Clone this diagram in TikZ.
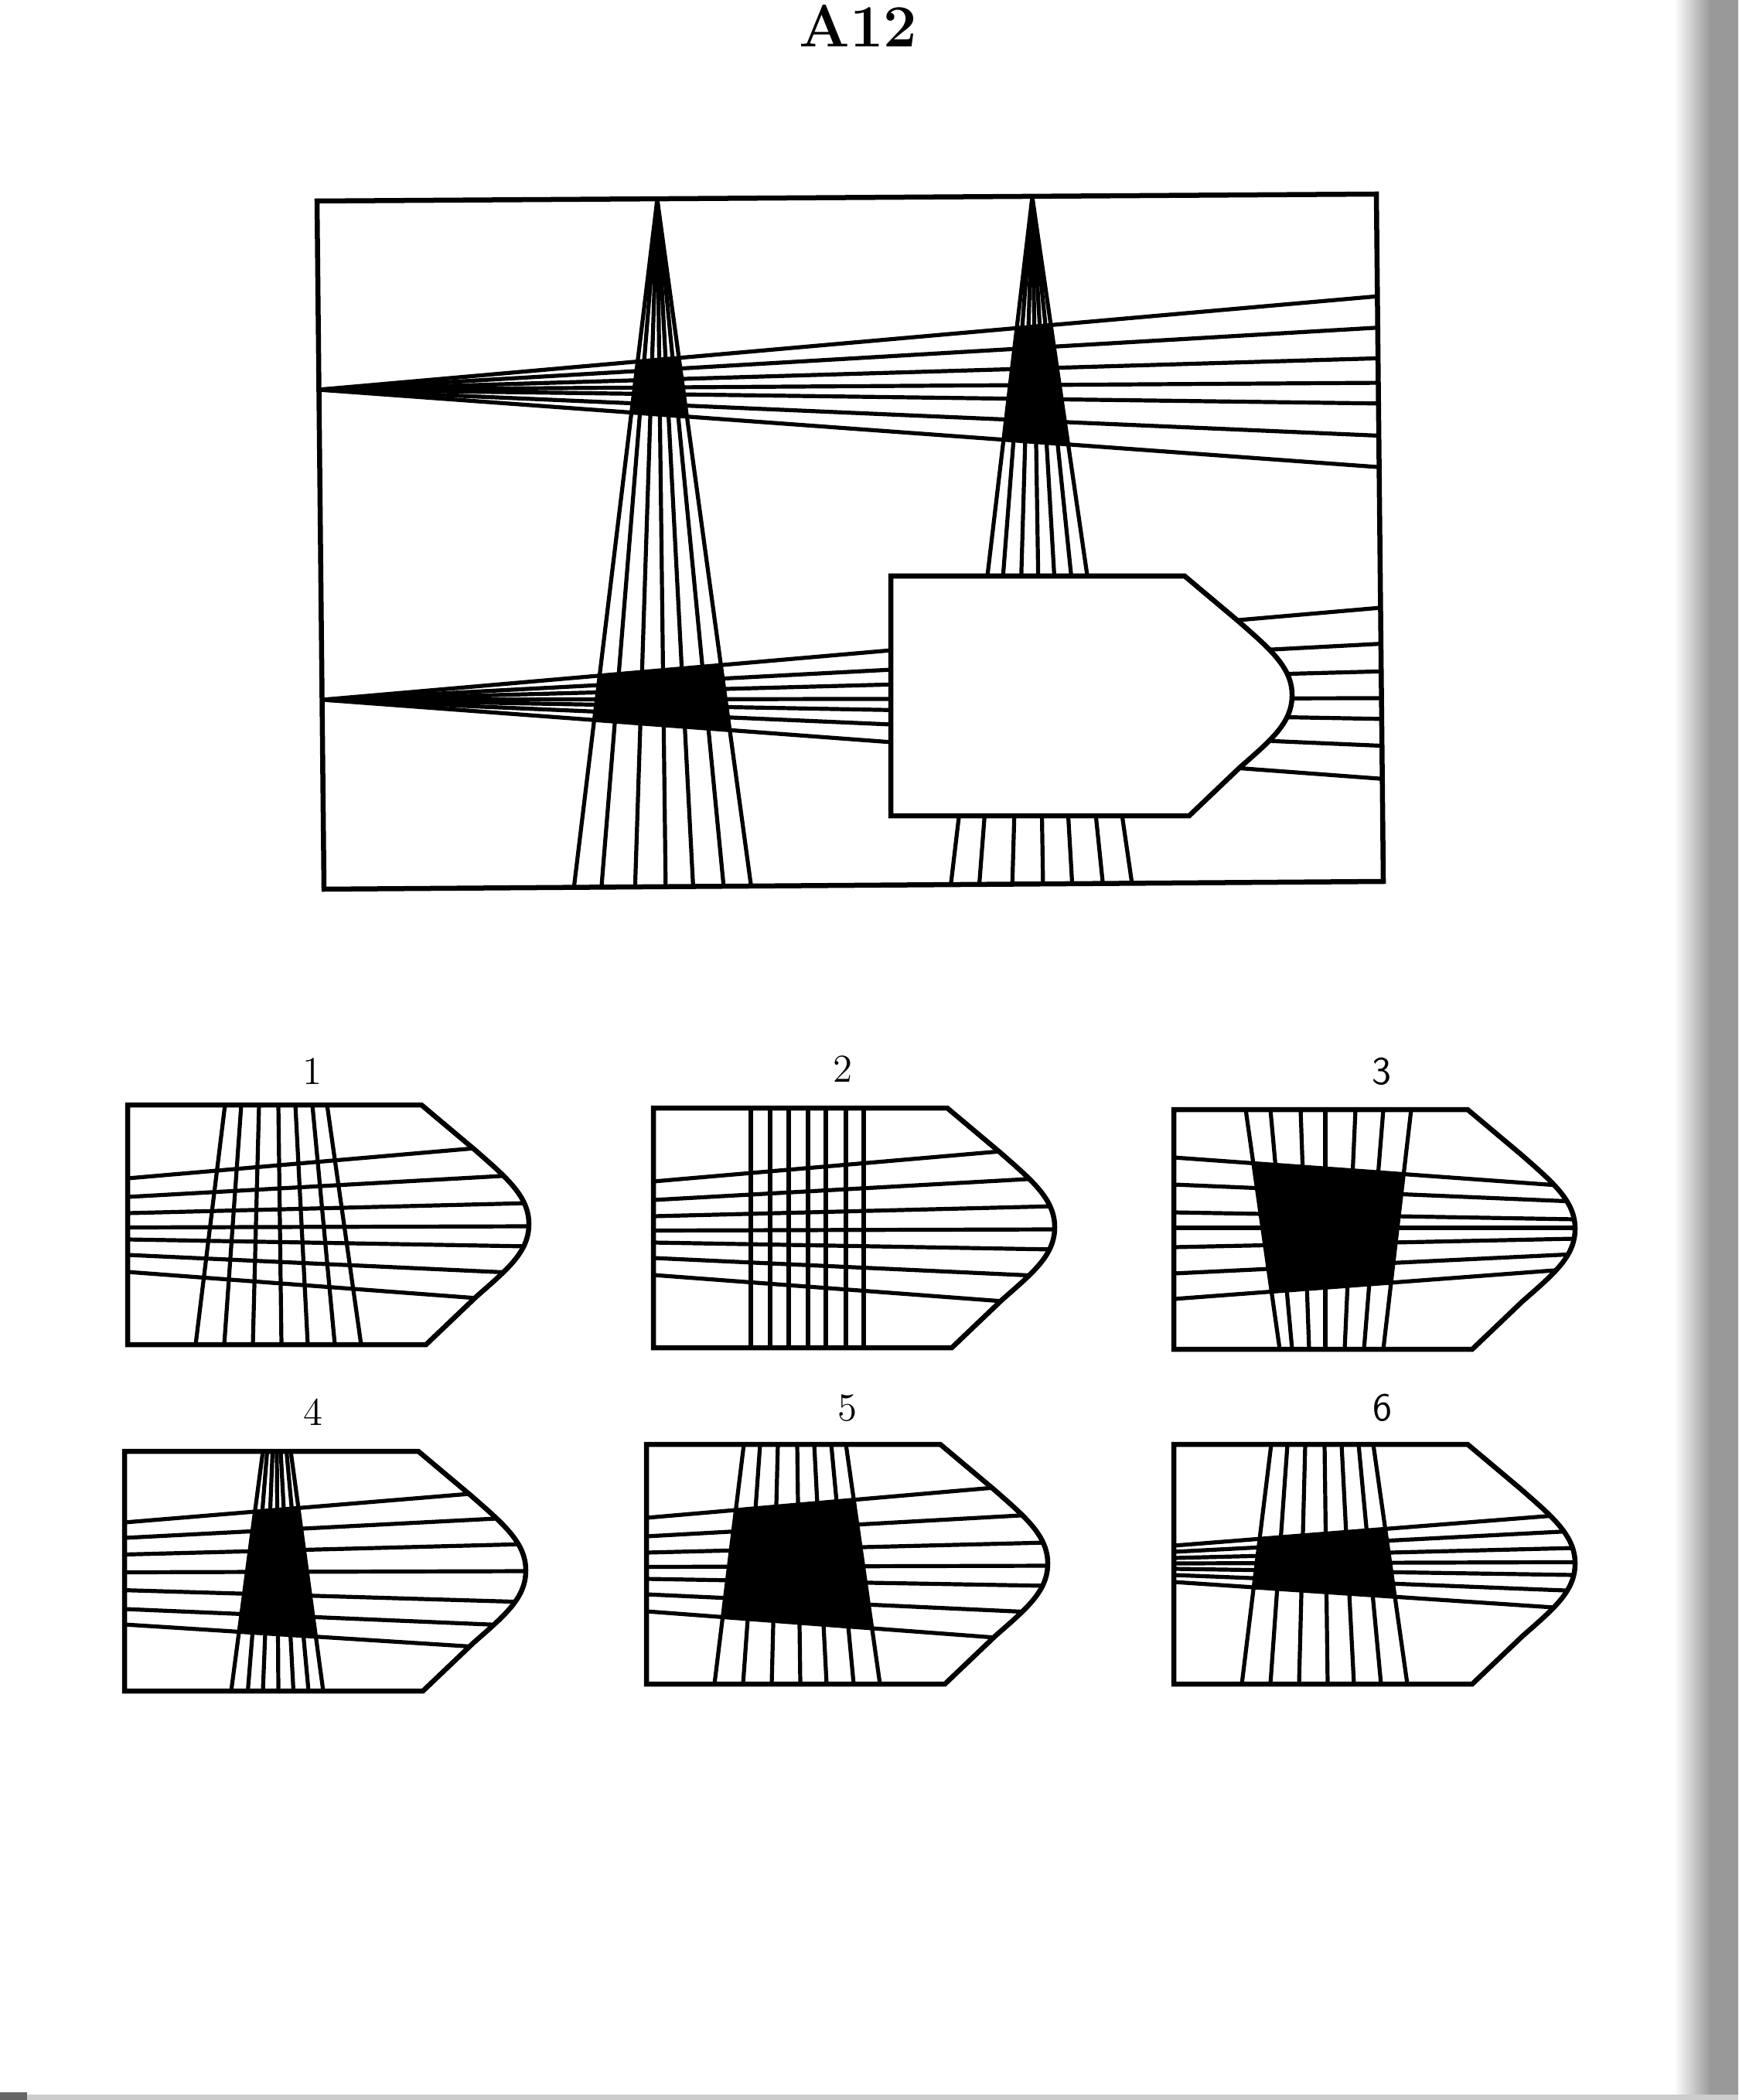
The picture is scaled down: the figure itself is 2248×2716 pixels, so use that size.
\documentclass[tikz,border=0pt]{standalone}
\usetikzlibrary{calc}
\tikzset{
  fan/.style={line width=0.052cm, line cap=butt},
  ray/.style={line width=0.052cm, line cap=butt, shorten <=-8pt, shorten >=-8pt},
  outl/.style={line width=0.065cm, line join=miter},
  lbl/.style={font=\fontsize{14.5}{17}\selectfont, inner sep=0pt},
  lbls/.style={font=\sffamily\fontsize{14.5}{17}\selectfont, inner sep=0pt},
}
\newcommand\optshape{(0,0) -- (380,0) -- (449,58) .. controls (490,94) and (519,118) .. (519,154) .. controls (519,190) and (492,212) .. (451,248) -- (386,310) -- (0,310) -- cycle}
% black quad: #1 t1, #2 t7, #3 b1, #4 b7, #5 a1, #6 c1, #7 a7, #8 c7
\newcommand\blackq[8]{%
  \begin{scope}
    \clip (#1,0) -- (#2,0) -- (#4,310) -- (#3,310) -- cycle;
    \fill (0,#5) -- (519,#6) -- (519,#8) -- (0,#7) -- cycle;
  \end{scope}}
\newcommand\CV{126/88, 147/125, 170/162, 195/199, 217/233, 239/268, 258/302}
\newcommand\CH{95/50, 119/90, 140/127, 158.5/157, 174/183, 194/218, 216/255}
\begin{document}
\begin{tikzpicture}[x=0.01cm, y=-0.01cm]
\useasboundingbox (0,0) rectangle (2248,2716);
\fill[white] (0,0) rectangle (2248,2716);
% scan edge
\shade[left color=white, right color=black!40] (2165,0) rectangle (2212,2716);
\fill[black!40] (2212,0) rectangle (2248,2716);
\fill[black!20] (0,2709) rectangle (2248,2716);
\fill[black!60] (0,2706) rectangle (35,2716);

\node[font=\fontsize{22}{26}\selectfont\bfseries, inner sep=0pt] (title) at (1110,33) {A12};

% ---------- main figure ----------
\begin{scope}
  \clip (410,260) -- (1780,251) -- (1789,1140) -- (419,1150) -- cycle;
  \begin{scope}
    \clip (850,260) -- (741,1152) -- (973,1152) -- cycle;
    \fill (414,504) -- (1786,382) -- (1786,605) -- cycle;
    \fill (419,905) -- (1788,785) -- (1788,1008) -- cycle;
  \end{scope}
  \begin{scope}
    \clip (1335,257) -- (1229,1143) -- (1465,1143) -- cycle;
    \fill (414,504) -- (1786,382) -- (1786,605) -- cycle;
  \end{scope}
  \foreach \x in {741,777,821,861,897,937,973} \draw[fan] (850,258) -- (\x,1158);
  \foreach \x in {1229,1266,1309,1349,1387,1427,1465} \draw[fan] (1335,255) -- (\x,1150);
  \foreach \y in {382,423,463,495,522,564,605} \draw[fan] (412,504) -- (1795,\y);
  \foreach \y in {785,832,868,903,930,965,1008} \draw[fan] (417,905) -- (1797,\y);
\end{scope}
\begin{scope}[shift={(1152,745)}]
  \filldraw[outl, fill=white] \optshape;
\end{scope}
\draw[outl] (410,260) -- (1780,251) -- (1789,1140) -- (419,1150) -- cycle;

% ---------- option 1 ----------
\node[lbl] (l1) at (404,1386) {1};
\begin{scope}[shift={(165,1429)}]
  \begin{scope}
    \clip \optshape;
    \foreach \a/\b in \CV \draw[ray] (\a,0) -- (\b,310);
    \foreach \a/\b in \CH \draw[ray] (0,\a) -- (519,\b);
  \end{scope}
  \draw[outl] \optshape;
\end{scope}

% ---------- option 2 ----------
\node[lbl] (l2) at (1090,1383) {2};
\begin{scope}[shift={(845,1433)}]
  \begin{scope}
    \clip \optshape;
    \foreach \a in {126,151,175,200,223,249,272} \draw[ray] (\a,0) -- (\a,310);
    \foreach \a/\b in \CH \draw[ray] (0,\a) -- (519,\b);
  \end{scope}
  \draw[outl] \optshape;
\end{scope}

% ---------- option 3 ----------
\node[lbls] (l3) at (1787,1386) {3};
\begin{scope}[shift={(1518,1435)}]
  \begin{scope}
    \clip \optshape;
    \blackq{93}{307}{137}{271}{62}{99.6}{245}{206}
    \foreach \a/\b in {93/137, 125/153, 164/175, 196/196, 235/221, 271/246, 307/271} \draw[ray] (\a,0) -- (\b,310);
    \foreach \a/\b in {62/99.6, 97/119, 133/142, 153/153, 178/167, 212/187, 245/206} \draw[ray] (0,\a) -- (519,\b);
  \end{scope}
  \draw[outl] \optshape;
\end{scope}

% ---------- option 4 ----------
\node[lbl] (l4) at (405,1826) {4};
\begin{scope}[shift={(161,1877)}]
  \begin{scope}
    \clip \optshape;
    \blackq{179}{215}{138}{257}{92}{49}{224}{257}
    \foreach \a/\b in {179/138, 184.5/159.5, 191.5/179, 197/199, 202/218.5, 209.5/238, 215/257} \draw[ray] (\a,0) -- (\b,310);
    \foreach \a/\b in {92/49, 112/85, 133.5/120, 156.5/155, 179.6/195, 204/226, 224/257} \draw[ray] (0,\a) -- (519,\b);
  \end{scope}
  \draw[outl] \optshape;
\end{scope}

% ---------- option 5 ----------
\node[lbl] (l5) at (1096,1821) {5};
\begin{scope}[shift={(836,1868)}]
  \begin{scope}
    \clip \optshape;
    \blackq{126}{258}{88}{302}{95}{50}{216}{255}
    \foreach \a/\b in \CV \draw[ray] (\a,0) -- (\b,310);
    \foreach \a/\b in \CH \draw[ray] (0,\a) -- (519,\b);
  \end{scope}
  \draw[outl] \optshape;
\end{scope}

% ---------- option 6 ----------
\node[lbls] (l6) at (1788,1821) {6};
\begin{scope}[shift={(1518,1868)}]
  \begin{scope}
    \clip \optshape;
    \blackq{126}{258}{88}{302}{131}{90}{178}{212.8}
    \foreach \a/\b in \CV \draw[ray] (\a,0) -- (\b,310);
    \foreach \a/\b in {131/90, 139/112, 147/134, 154/152.4, 161/169, 169/189.5, 178/212.8} \draw[ray] (0,\a) -- (519,\b);
  \end{scope}
  \draw[outl] \optshape;
\end{scope}
\end{tikzpicture}
\end{document}
